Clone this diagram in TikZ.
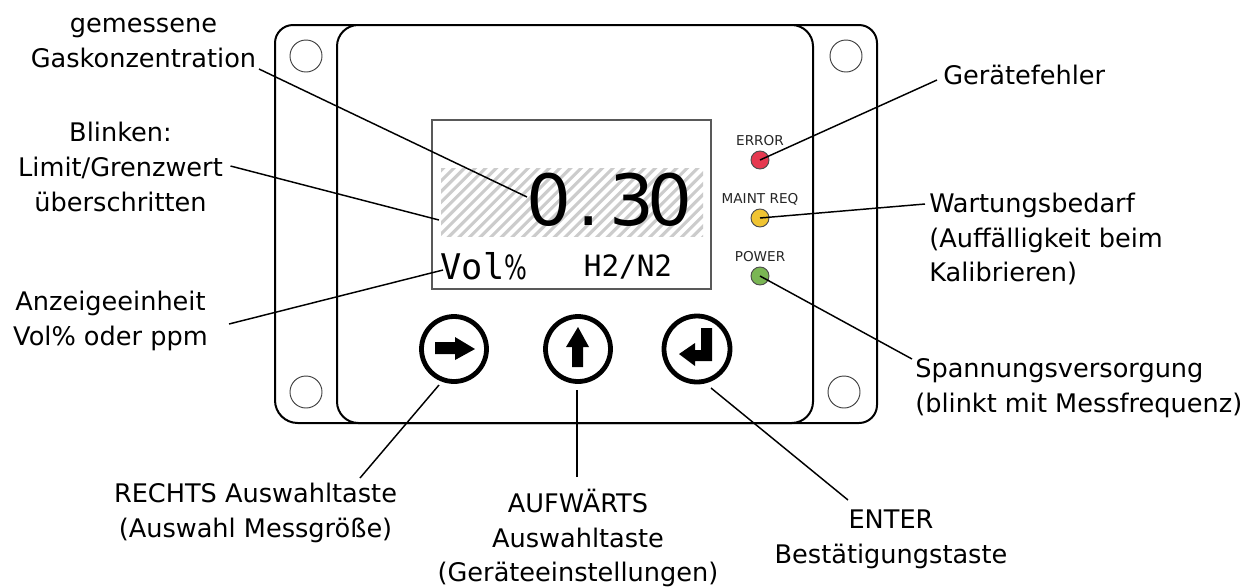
\documentclass[tikz,border=0pt]{standalone}
\usepackage{fontspec}
\setmainfont{DejaVu Sans}
\setmonofont{DejaVu Sans Mono}
\newfontfamily\pctfont[FakeStretch=0.72]{DejaVu Sans}
\begin{document}
\begin{tikzpicture}[x=0.75pt,y=-0.75pt,
  lbl/.style={inner sep=0pt,font=\fontsize{19.2pt}{26pt}\selectfont},
  ledlbl/.style={inner sep=0pt,font=\fontsize{10.2pt}{12pt}\selectfont,text=black!85},
  leader/.style={draw=black,line width=1.1pt},
  body/.style={draw=black,line width=1.5pt},
  hole/.style={circle,draw=black!75,line width=0.7pt,minimum size=32*0.75pt,inner sep=0pt},
  led/.style={circle,draw=black!70,line width=0.7pt,minimum size=18*0.75pt,inner sep=0pt},
  btn/.style={circle,draw=black,line width=3.6pt,minimum size=65*0.75pt,inner sep=0pt},
  icon/.style={fill=black,draw=none}]
\useasboundingbox (0,0) rectangle (1253,587);
\fill[white] (0,0) rectangle (1253,587);
% housing
\draw[body,rounded corners=13.5pt] (275,200) -- (275,25) -- (877,25) -- (877,200) -- (877,423) [rounded corners=17pt] -- (275,423) [rounded corners=13.5pt] -- cycle;
\draw[body,fill=white,rounded corners=16pt] (337,25) rectangle (813,423);
\node[hole] (h1) at (306,56) {};
\node[hole] (h2) at (846,56) {};
\node[hole] (h3) at (306,392) {};
\node[hole] (h4) at (844,392) {};
% screen
\node[draw=black!65,line width=1pt,fill=white,minimum width=279*0.75pt,minimum height=169*0.75pt,inner sep=0pt] (screen) at (571.5,204.5) {};
\begin{scope}
\clip (441,168) rectangle (703,236);
\foreach \k in {-10,...,28} {
  \draw[black!20,line width=2.3pt] ({430+\k*10.6},245) -- ({430+\k*10.6+86},159);
}
\end{scope}
\node[inner sep=0pt,font=\fontsize{53pt}{55pt}\selectfont] (val) at (609.5,200) {0\kern4.4pt.\kern7pt3\kern-5pt0};
\node[inner sep=0pt,font=\ttfamily\fontsize{26.5pt}{30pt}\selectfont] (unit) at (484,266) {Vol{\pctfont\fontsize{25pt}{30pt}\selectfont\%}};
\node[inner sep=0pt,font=\ttfamily\fontsize{22pt}{30pt}\selectfont] (gas) at (628,267) {H2/N2};
% LEDs
\node[ledlbl] (lE) at (760,141) {ERROR};
\node[ledlbl] (lM) at (760,199) {MAINT REQ};
\node[ledlbl] (lP) at (760,257) {POWER};
\node[led,fill={rgb,255:red,230;green,57;blue,80}] (ledE) at (760,160) {};
\node[led,fill={rgb,255:red,240;green,196;blue,50}] (ledM) at (760,218) {};
\node[led,fill={rgb,255:red,122;green,182;blue,84}] (ledP) at (760,276) {};
% buttons
\node[btn] (bR) at (454,349) {};
\node[btn] (bU) at (578,349) {};
\node[btn,minimum size=66*0.75pt] (bE) at (697,349) {};
\fill[icon] (435,342) -- (455,342) -- (455,337) -- (475,349) -- (455,360) -- (455,354) -- (435,354) -- cycle;
\fill[icon] (572,367) -- (572,347) -- (566,347) -- (578,327) -- (589,347) -- (583,347) -- (583,367) -- cycle;
\fill[icon] (701,328) -- (712,328) -- (712,361) -- (695,361) -- (695,366) -- (679,354) -- (695,343) -- (695,350) -- (701,350) -- cycle;
% labels
\node[lbl,align=center] (tGas) at (143.5,43) {gemessene\\Gaskonzentration};
\node[lbl,align=center] (tBlink) at (120.5,167) {Blinken:\\Limit/Grenzwert\\überschritten};
\node[lbl,align=center] (tUnit) at (110.5,321) {Anzeigeeinheit\\Vol\% oder ppm};
\node[lbl,align=center] (tR) at (255.5,513) {RECHTS Auswahltaste\\(Auswahl Messgröße)};
\node[lbl,align=center] (tU) at (578,538) {AUFWÄRTS\\Auswahltaste\\(Geräteeinstellungen)};
\node[lbl,align=center] (tE) at (891,539) {ENTER\\Bestätigungstaste};
\node[lbl,anchor=west] (tF) at (943,75) {Gerätefehler};
\node[lbl,align=left,anchor=west] (tW) at (929,239) {Wartungsbedarf\\(Auffälligkeit beim\\Kalibrieren)};
\node[lbl,align=left,anchor=west] (tS) at (915,388) {Spannungsversorgung\\(blinkt mit Messfrequenz)};
% connector ends
\coordinate (cGas) at (259,69);
\coordinate (cVal) at (527,197);
\coordinate (cBlink) at (230.5,166);
\coordinate (cHatch) at (439,220);
\coordinate (cUnitL) at (229,324);
\coordinate (cUnit) at (443,270);
\coordinate (cR) at (360,478);
\coordinate (cBR) at (439,385);
\coordinate (cU) at (577,477);
\coordinate (cBU) at (577,390);
\coordinate (cE) at (848,500);
\coordinate (cBE) at (711,388);
\coordinate (cF) at (937,80);
\coordinate (cW) at (925,204);
\coordinate (cS) at (912,359);
\draw[leader] (cGas) -- (cVal);
\draw[leader] (cBlink) -- (cHatch);
\draw[leader] (cUnitL) -- (cUnit);
\draw[leader] (cR) -- (cBR);
\draw[leader] (cU) -- (cBU);
\draw[leader] (cE) -- (cBE);
\draw[leader] (cF) -- (ledE.center);
\draw[leader] (cW) -- (ledM.center);
\draw[leader] (cS) -- (ledP.center);
\end{tikzpicture}
\end{document}
